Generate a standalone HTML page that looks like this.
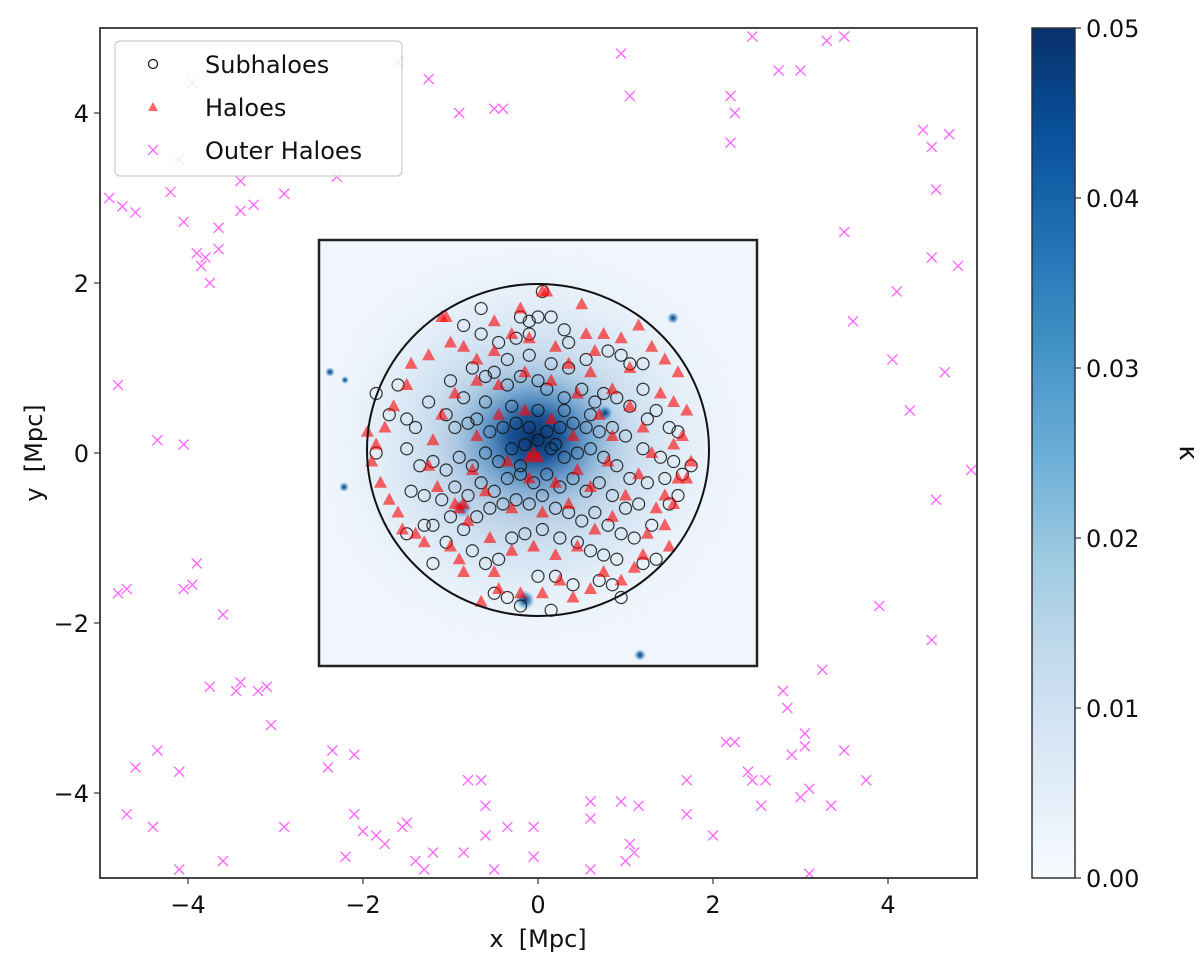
<!DOCTYPE html>
<html><head><meta charset="utf-8"><style>
body{margin:0;background:#fff}
svg text{font-family:"DejaVu Sans","Liberation Sans",sans-serif;fill:#111}
</style></head><body>
<svg id="chart" width="1200" height="968" xmlns="http://www.w3.org/2000/svg">
<defs>
<clipPath id="boxclip"><rect x="319" y="240" width="438" height="426"/></clipPath>
<radialGradient id="halo" cx="0.5" cy="0.5" r="0.5">
<stop offset="0" stop-color="#08306b" stop-opacity="1"/>
<stop offset="0.25" stop-color="#0b4a8f" stop-opacity="0.9"/>
<stop offset="0.5" stop-color="#3b83c0" stop-opacity="0.55"/>
<stop offset="0.75" stop-color="#8dbde0" stop-opacity="0.3"/>
<stop offset="1" stop-color="#c6dbef" stop-opacity="0"/>
</radialGradient>
<radialGradient id="blob" cx="0.5" cy="0.5" r="0.5">
<stop offset="0" stop-color="#08306b"/><stop offset="0.5" stop-color="#2171b5" stop-opacity="0.7"/><stop offset="1" stop-color="#6baed6" stop-opacity="0"/>
</radialGradient>
<linearGradient id="cbar" x1="0" y1="1" x2="0" y2="0">
<stop offset="0" stop-color="#f7fbff"/><stop offset="0.125" stop-color="#deebf7"/><stop offset="0.25" stop-color="#c6dbef"/><stop offset="0.375" stop-color="#9ecae1"/><stop offset="0.5" stop-color="#6baed6"/><stop offset="0.625" stop-color="#4292c6"/><stop offset="0.75" stop-color="#2171b5"/><stop offset="0.875" stop-color="#08519c"/><stop offset="1" stop-color="#08306b"/>
</linearGradient>
</defs>
<g id="bg" clip-path="url(#boxclip)">
<rect x="319" y="240" width="438" height="426" fill="#f1f6fc"/>
<ellipse cx="530" cy="445" rx="220" ry="205" fill="url(#halo)" opacity="0.35"/>
<ellipse cx="535" cy="438" rx="105" ry="90" fill="url(#halo)"/>
<circle cx="330" cy="372" r="5" fill="url(#blob)"/>
<circle cx="345" cy="380" r="4" fill="url(#blob)"/>
<circle cx="525" cy="600" r="10" fill="url(#blob)"/>
<circle cx="673" cy="318" r="6" fill="url(#blob)"/>
<circle cx="344" cy="487" r="5" fill="url(#blob)"/>
<circle cx="640" cy="655" r="6" fill="url(#blob)"/>
<circle cx="605" cy="413" r="8" fill="url(#blob)"/>
<circle cx="462" cy="508" r="10" fill="url(#blob)" opacity="0.8"/>
</g>
<g id="marks"></g>
<rect x="319" y="240" width="438" height="426" fill="none" stroke="#222" stroke-width="2.5"/>
<ellipse cx="538" cy="450" rx="171" ry="166" fill="none" stroke="#111" stroke-width="2"/>
<rect x="100" y="28" width="877" height="850" fill="none" stroke="#333" stroke-width="1.8"/>
<g id="axes"></g>
<g>
<rect x="115" y="41" width="287" height="135" rx="5" fill="#fff" fill-opacity="0.85" stroke="#ccc" stroke-width="1.2"/>
<circle cx="153" cy="64" r="4.5" fill="none" stroke="#111" stroke-width="1.2"/>
<text x="205" y="73" font-size="24">Subhaloes</text>
<polygon points="153,102 158,111 148,111" fill="#ff0000" fill-opacity="0.6"/>
<text x="205" y="116" font-size="24">Haloes</text>
<path d="M148,145 L158,155 M158,145 L148,155" stroke="#ff66ff" stroke-width="1.3"/>
<text x="205" y="159" font-size="24">Outer Haloes</text>
</g>
<text x="538" y="947" font-size="24" text-anchor="middle" xml:space="preserve">x  [Mpc]</text>
<text x="42" y="453" font-size="24" text-anchor="middle" transform="rotate(-90 42 453)" xml:space="preserve">y  [Mpc]</text>
<rect x="1032" y="28" width="43" height="850" fill="url(#cbar)" stroke="#333" stroke-width="1.5"/>
<g id="cbaxis"></g>
<text x="1180" y="453" font-size="26" text-anchor="middle" transform="rotate(90 1180 453)">κ</text>
</svg>
<script>
const xTicks=[-4,-2,0,2,4];
const yTicks=[-4,-2,0,2,4];
const cbTicks=[0,0.01,0.02,0.03,0.04,0.05];
const cbLabels=["0.00","0.01","0.02","0.03","0.04","0.05"];
const outerHaloes=[[-4.9,3.0],[-4.75,2.9],[-4.6,2.83],[-4.2,3.07],[-4.1,3.45],[-3.95,4.35],[-4.05,2.72],[-3.9,2.35],[-3.85,2.2],[-3.8,2.3],[-3.75,2.0],[-3.65,2.65],[-3.65,2.4],[-3.4,3.2],[-3.4,2.85],[-3.25,2.92],[-2.9,3.05],[-2.3,3.25],[-1.6,4.6],[-1.25,4.4],[-0.9,4.0],[-0.5,4.05],[-0.4,4.05],[0.95,4.7],[1.05,4.2],[2.2,3.65],[2.2,4.2],[2.25,4.0],[2.45,4.9],[2.75,4.5],[3.0,4.5],[3.3,4.85],[3.5,4.9],[4.4,3.8],[4.5,3.6],[4.55,3.1],[4.7,3.75],[3.5,2.6],[3.6,1.55],[4.1,1.9],[4.5,2.3],[4.8,2.2],[4.05,1.1],[4.25,0.5],[4.65,0.95],[4.95,-0.2],[4.55,-0.55],[-4.8,0.8],[-4.35,0.15],[-4.05,0.1],[-4.8,-1.65],[-4.7,-1.6],[-4.05,-1.6],[-3.95,-1.55],[-3.9,-1.3],[-3.6,-1.9],[-3.75,-2.75],[-3.45,-2.8],[-3.4,-2.7],[-3.2,-2.8],[-3.1,-2.75],[-3.05,-3.2],[-4.35,-3.5],[-4.6,-3.7],[-4.1,-3.75],[-4.7,-4.25],[-4.4,-4.4],[-4.1,-4.9],[-3.6,-4.8],[-2.35,-3.5],[-2.4,-3.7],[-2.1,-3.55],[-2.1,-4.25],[-2.2,-4.75],[-2.0,-4.45],[-1.85,-4.5],[-1.75,-4.6],[-1.55,-4.4],[-1.5,-4.35],[-1.4,-4.8],[-1.3,-4.9],[-1.2,-4.7],[-2.9,-4.4],[-0.8,-3.85],[-0.65,-3.85],[-0.6,-4.15],[-0.85,-4.7],[-0.6,-4.5],[-0.35,-4.4],[-0.5,-4.9],[-0.05,-4.4],[-0.05,-4.75],[0.6,-4.1],[0.6,-4.3],[0.6,-4.9],[0.95,-4.1],[1.15,-4.15],[1.05,-4.6],[1.1,-4.7],[1.0,-4.8],[1.7,-3.85],[1.7,-4.25],[2.0,-4.5],[2.15,-3.4],[2.25,-3.4],[2.4,-3.75],[2.45,-3.85],[2.6,-3.85],[2.55,-4.15],[2.8,-2.8],[2.85,-3.0],[2.9,-3.55],[3.05,-3.3],[3.05,-3.45],[3.1,-3.95],[3.1,-4.95],[3.0,-4.05],[3.25,-2.55],[3.35,-4.15],[3.5,-3.5],[3.75,-3.85],[3.9,-1.8],[4.5,-2.2]];
const haloes=[[0.05,1.9],[0.1,1.9],[-0.5,1.55],[-1.1,1.6],[-1.05,1.6],[0.55,1.4],[0.75,1.4],[0.95,1.35],[1.15,1.5],[0.65,1.2],[1.3,1.25],[1.05,1.0],[1.45,1.1],[1.6,0.95],[1.4,0.7],[1.55,0.6],[1.7,0.5],[1.65,0.2],[1.55,0.1],[1.75,-0.1],[1.6,-0.3],[1.45,-0.5],[1.35,-0.65],[1.45,-0.85],[1.25,-0.95],[1.5,-1.1],[1.2,-1.2],[1.1,-1.35],[0.95,-1.5],[0.75,-1.4],[0.6,-1.6],[0.4,-1.7],[0.25,-1.5],[0.05,-1.65],[-0.2,-1.65],[-0.45,-1.6],[-0.65,-1.75],[-0.5,-1.4],[-0.85,-1.4],[-0.9,-1.25],[-1.0,-1.1],[-1.3,-1.05],[-1.4,-0.95],[-1.55,-0.9],[-1.6,-0.7],[-1.7,-0.55],[-1.8,-0.35],[-1.9,-0.1],[-1.95,0.25],[-1.85,0.1],[-1.75,0.3],[-1.65,0.55],[-1.5,0.8],[-1.45,1.05],[-1.25,1.15],[-1.0,1.3],[-0.85,1.25],[-0.7,1.1],[-0.5,1.2],[-0.3,1.4],[-0.1,1.35],[0.2,1.25],[0.35,1.05],[0.6,0.95],[0.85,0.75],[1.05,0.55],[1.2,0.3],[1.3,0.0],[1.15,-0.25],[1.0,-0.5],[0.85,-0.75],[0.65,-0.9],[0.45,-1.1],[0.2,-1.2],[-0.05,-1.1],[-0.3,-1.15],[-0.55,-1.0],[-0.8,-0.8],[-0.95,-0.6],[-1.15,-0.4],[-1.25,-0.15],[-1.2,0.15],[-1.1,0.45],[-0.95,0.7],[-0.7,0.85],[-0.45,0.8],[-0.15,0.95],[0.15,0.85],[0.45,0.7],[0.7,0.45],[0.85,0.2],[0.8,-0.1],[0.6,-0.4],[0.35,-0.6],[0.05,-0.7],[-0.3,-0.65],[-0.6,-0.45],[-0.75,-0.2],[-0.7,0.2],[-0.45,0.45],[-0.15,0.5],[0.15,0.4],[0.4,0.2],[0.45,-0.2],[0.2,-0.35],[-0.1,-0.3],[-0.35,-0.1],[-0.05,0.0],[0.0,-0.05],[-0.1,-0.05],[-0.9,-0.65],[-0.85,-0.6],[1.7,-0.3],[1.55,-0.6],[-0.2,1.7],[0.5,1.75]];
const subhaloes=[[0.05,1.9],[-0.65,1.7],[-0.2,1.6],[-0.1,1.55],[0.0,1.6],[0.15,1.6],[-0.85,1.5],[-0.65,1.4],[-0.45,1.3],[-0.25,1.35],[-0.1,1.4],[0.3,1.45],[0.35,1.3],[0.8,1.2],[0.95,1.15],[1.05,1.05],[1.2,1.05],[-0.75,1.0],[-0.6,0.9],[-0.5,0.95],[-0.35,0.8],[-0.2,0.9],[0.0,0.85],[0.1,0.75],[0.3,0.65],[0.5,0.75],[0.65,0.6],[0.75,0.7],[0.9,0.65],[1.05,0.55],[1.25,0.4],[1.35,0.5],[1.5,0.3],[1.6,0.25],[-1.6,0.8],[-1.5,0.4],[-1.25,0.6],[-1.05,0.45],[-0.95,0.3],[-0.8,0.35],[-0.7,0.4],[-0.55,0.25],[-0.4,0.3],[-0.25,0.35],[-0.1,0.3],[0.1,0.25],[0.25,0.3],[0.4,0.35],[0.55,0.3],[0.7,0.25],[0.85,0.3],[1.0,0.2],[1.2,0.05],[1.4,-0.05],[1.55,-0.1],[1.65,-0.25],[-1.5,0.05],[-1.35,-0.15],[-1.2,-0.1],[-1.05,-0.2],[-0.9,-0.05],[-0.75,-0.15],[-0.6,0.0],[-0.45,-0.1],[-0.3,0.05],[-0.15,0.1],[0.0,0.15],[0.15,0.05],[0.3,-0.05],[0.45,0.0],[0.6,0.05],[0.75,-0.05],[0.9,-0.15],[1.05,-0.3],[1.25,-0.35],[1.45,-0.3],[1.6,-0.5],[-1.45,-0.45],[-1.3,-0.5],[-1.1,-0.55],[-0.95,-0.4],[-0.8,-0.5],[-0.65,-0.35],[-0.5,-0.45],[-0.35,-0.3],[-0.2,-0.25],[-0.05,-0.35],[0.1,-0.25],[0.25,-0.4],[0.4,-0.3],[0.55,-0.45],[0.7,-0.35],[0.85,-0.5],[1.0,-0.65],[1.15,-0.6],[1.3,-0.85],[-1.2,-0.85],[-1.0,-0.75],[-0.85,-0.9],[-0.7,-0.75],[-0.55,-0.65],[-0.4,-0.6],[-0.25,-0.55],[-0.1,-0.6],[0.05,-0.5],[0.2,-0.65],[0.35,-0.7],[0.5,-0.8],[0.65,-0.7],[0.8,-0.85],[0.95,-0.95],[1.1,-1.0],[-1.5,-0.95],[-1.2,-1.3],[-1.05,-1.05],[-0.75,-1.15],[-0.6,-1.3],[-0.45,-1.25],[-0.3,-1.0],[-0.15,-0.95],[0.05,-0.9],[0.25,-1.0],[0.45,-1.05],[0.6,-1.15],[0.75,-1.2],[0.9,-1.25],[1.2,-1.3],[1.35,-1.25],[-0.5,-1.65],[-0.35,-1.7],[0.0,-1.45],[0.2,-1.45],[0.4,-1.55],[0.7,-1.5],[0.85,-1.55],[0.95,-1.7],[-0.2,-1.8],[0.15,-1.85],[-1.85,0.7],[-1.7,0.45],[-1.4,0.3],[-1.85,0.0],[1.5,-0.6],[1.75,-0.15],[-1.3,-0.85],[0.35,1.0],[0.55,1.1],[-1.0,0.85],[-0.35,1.1],[-0.1,1.15],[0.15,1.05],[-0.6,0.6],[-0.3,0.55],[0.0,0.5],[0.3,0.5],[0.6,0.45],[-0.85,0.65],[1.2,0.75],[-0.2,-0.15],[0.2,0.1]];
const X0=538,XS=87.5,Y0=453,YS=85;
function xs(v){return X0+v*XS;}
function ys(v){return Y0-v*YS;}
function cby(v){return 878-(v/0.05)*850;}
const NS="http://www.w3.org/2000/svg";
const marks=document.getElementById('marks');
function mk(tag,attrs,parent){const e=document.createElementNS(NS,tag);for(const k in attrs)e.setAttribute(k,attrs[k]);parent.appendChild(e);return e;}
outerHaloes.forEach(p=>{const x=xs(p[0]),y=ys(p[1]);
 const el=mk('path',{d:`M${x-5},${y-5}L${x+5},${y+5}M${x+5},${y-5}L${x-5},${y+5}`,stroke:'#ff66ff','stroke-width':1.3},marks);
 
 });
subhaloes.forEach(p=>{
 const el=mk('circle',{cx:xs(p[0]),cy:ys(p[1]),r:6,fill:'none',stroke:'#111','stroke-width':1.2,'stroke-opacity':0.85},marks);
 
 });
haloes.forEach(p=>{const x=xs(p[0]),y=ys(p[1]);
 const el=mk('polygon',{points:`${x},${y-7} ${x+6.5},${y+5} ${x-6.5},${y+5}`,fill:'#ff0000','fill-opacity':0.6},marks);
 
 });
const axes=document.getElementById('axes');
xTicks.forEach(t=>{const x=xs(t);
 mk('line',{x1:x,y1:878,x2:x,y2:884,stroke:'#333','stroke-width':1.2},axes);
 const tx=mk('text',{x:x,y:913,'font-size':24,'text-anchor':'middle'},axes);tx.textContent=(t<0?'\u2212':'')+Math.abs(t);
 
 });
yTicks.forEach(t=>{const y=ys(t);
 mk('line',{x1:94,y1:y,x2:100,y2:y,stroke:'#333','stroke-width':1.2},axes);
 const tx=mk('text',{x:89,y:y+9,'font-size':24,'text-anchor':'end'},axes);tx.textContent=(t<0?'\u2212':'')+Math.abs(t);
 
 });
const cba=document.getElementById('cbaxis');
cbTicks.forEach((t,i)=>{const y=cby(t);
 mk('line',{x1:1075,y1:y,x2:1081,y2:y,stroke:'#333','stroke-width':1.2},cba);
 const tx=mk('text',{x:1086,y:y+9,'font-size':24},cba);tx.textContent=cbLabels[i];
 
 });
</script>
</body></html>
